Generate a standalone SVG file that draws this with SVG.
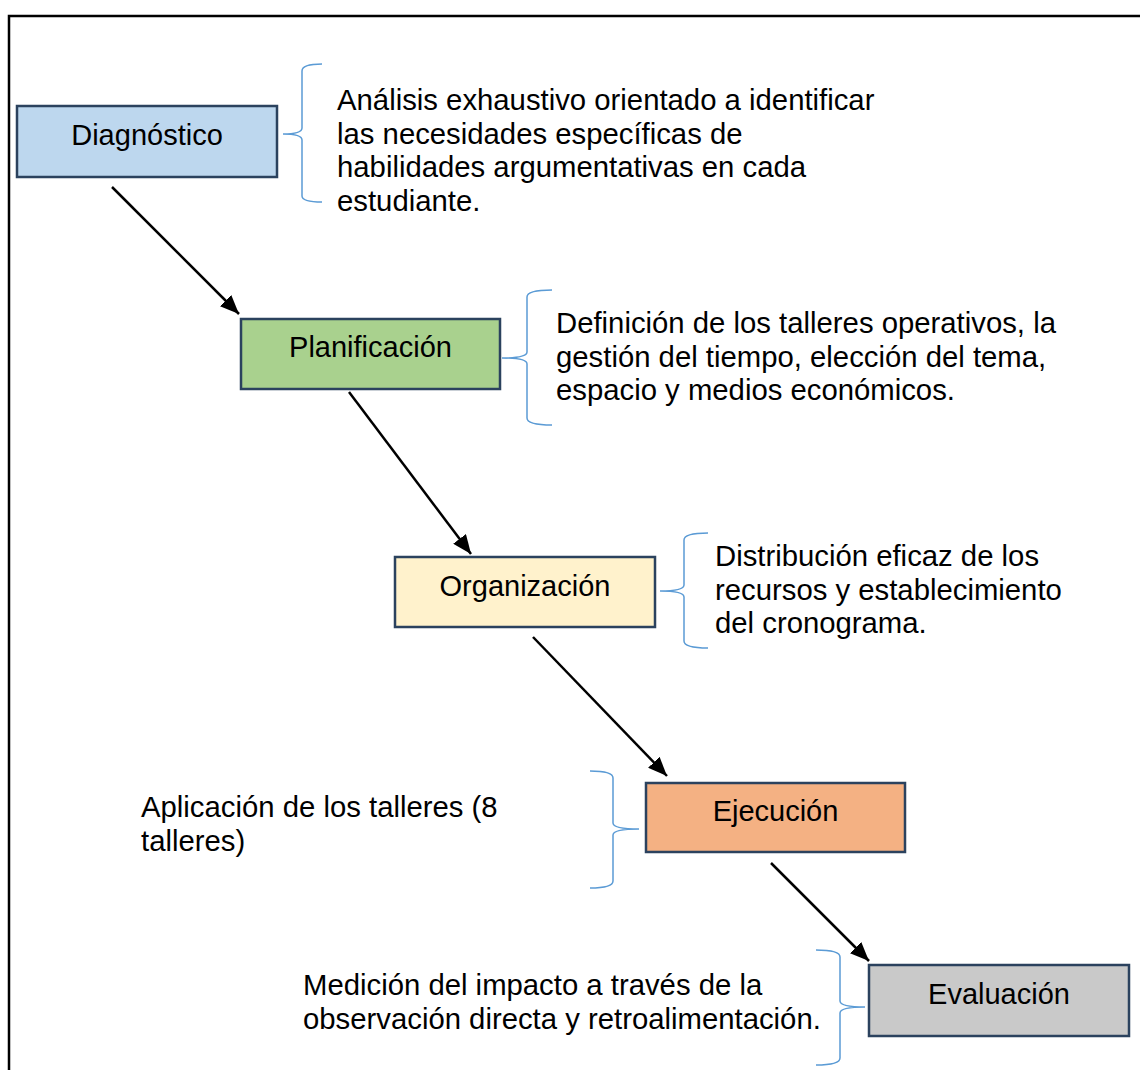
<svg xmlns="http://www.w3.org/2000/svg" width="1140" height="1070" viewBox="0 0 1140 1070">
<defs>
<style>
.box{stroke:#2B425E;stroke-width:2.5}
.lbl{font-family:"Liberation Sans",Arial,sans-serif;font-size:29px;fill:#000;text-anchor:middle}
.txt{font-family:"Liberation Sans",Arial,sans-serif;font-size:29.3px;fill:#000}
.brace{fill:none;stroke:#5B9BD5;stroke-width:1.5}
.arrow{stroke:#000;stroke-width:2.5;fill:none;marker-end:url(#ah)}
</style>
<marker id="ah" markerUnits="userSpaceOnUse" markerWidth="20" markerHeight="16" refX="19" refY="8" orient="auto">
<path d="M0,0 L19,8 L0,16 z" fill="#000"/>
</marker>
</defs>
<rect width="1140" height="1070" fill="#fff"/>
<rect x="9" y="16" width="1140" height="1070" fill="none" stroke="#000" stroke-width="2.5"/>

<g id="connectors">
<line class="arrow" x1="112" y1="187" x2="239" y2="314"/>
<line class="arrow" x1="349" y1="392" x2="471" y2="554"/>
<line class="arrow" x1="533" y1="637" x2="667" y2="776"/>
<line class="arrow" x1="771" y1="863" x2="869" y2="961"/>
</g>

<g id="braces">
<path class="brace" d="M322,64 Q302,64 302,71 L302,128 Q302,134 283,134 Q302,134 302,140 L302,196 Q302,202 322,202"/>
<path class="brace" d="M552,290 Q527,290 527,297 L527,352 Q527,358 502,358 Q527,358 527,364 L527,418 Q527,425 552,425"/>
<path class="brace" d="M708,533 Q684,533 684,540 L684,585 Q684,591 660,591 Q684,591 684,597 L684,641 Q684,648 708,648"/>
<path class="brace" d="M590,771 Q613,771 613,778 L613,823 Q613,829 639,829 Q613,829 613,835 L613,881 Q613,888 590,888"/>
<path class="brace" d="M816,950 Q840,950 840,957 L840,1001 Q840,1007 865,1007 Q840,1007 840,1013 L840,1058 Q840,1065 816,1065"/>
</g>

<g id="diagnostico">
<rect class="box" x="17" y="106" width="260" height="71" fill="#BDD7EE"/>
<text class="lbl" x="147" y="145">Diagnóstico</text>
</g>
<g id="planificacion">
<rect class="box" x="241" y="319" width="259" height="70" fill="#A9D18E"/>
<text class="lbl" x="370.5" y="357">Planificación</text>
</g>
<g id="organizacion">
<rect class="box" x="395" y="557" width="260" height="70" fill="#FFF2CC"/>
<text class="lbl" x="525" y="596">Organización</text>
</g>
<g id="ejecucion">
<rect class="box" x="646" y="783" width="259" height="69" fill="#F4B183"/>
<text class="lbl" x="775.5" y="821">Ejecución</text>
</g>
<g id="evaluacion">
<rect class="box" x="869" y="965" width="260" height="71" fill="#C9C9C9"/>
<text class="lbl" x="999" y="1004">Evaluación</text>
</g>

<g id="texto-diagnostico">
<text class="txt" x="337" y="110">Análisis exhaustivo orientado a identificar</text>
<text class="txt" x="337" y="143.5">las necesidades específicas de</text>
<text class="txt" x="337" y="177">habilidades argumentativas en cada</text>
<text class="txt" x="337" y="210.5">estudiante.</text>
</g>
<g id="texto-planificacion">
<text class="txt" x="556" y="333">Definición de los talleres operativos, la</text>
<text class="txt" x="556" y="366.5">gestión del tiempo, elección del tema,</text>
<text class="txt" x="556" y="400">espacio y medios económicos.</text>
</g>
<g id="texto-organizacion">
<text class="txt" x="715" y="566">Distribución eficaz de los</text>
<text class="txt" x="715" y="599.5">recursos y establecimiento</text>
<text class="txt" x="715" y="633">del cronograma.</text>
</g>
<g id="texto-ejecucion">
<text class="txt" x="141" y="817">Aplicación de los talleres (8</text>
<text class="txt" x="141" y="850.5">talleres)</text>
</g>
<g id="texto-evaluacion">
<text class="txt" x="303" y="995">Medición del impacto a través de la</text>
<text class="txt" x="303" y="1028.5">observación directa y retroalimentación.</text>
</g>
</svg>
